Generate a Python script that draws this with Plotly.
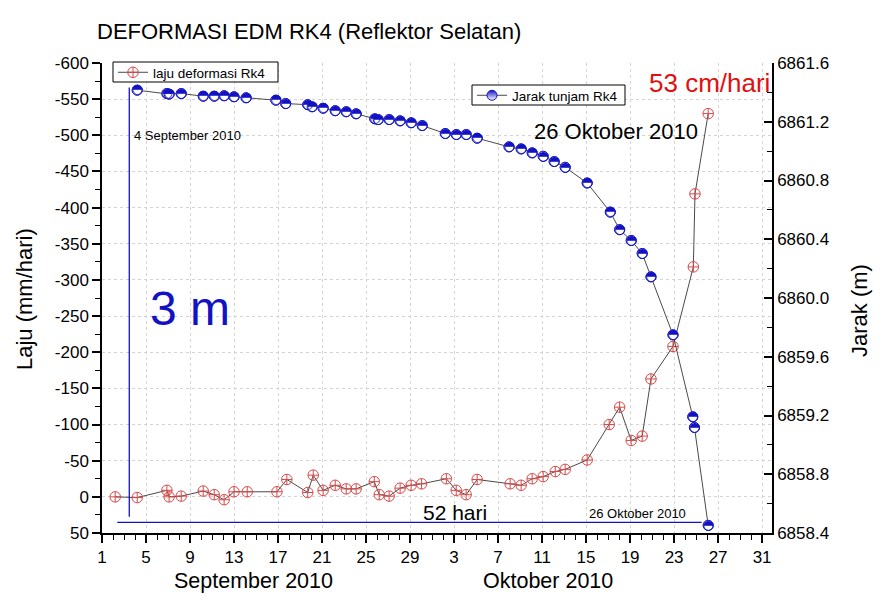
import plotly.graph_objects as go

# ---------------- data (x = day counted from 1 September 2010: Sep d -> d, Oct d -> 30 + d)
laju_hari = [2.2, 4.2, 6.9, 7.1, 8.2, 10.2, 11.2, 12.1, 13.0, 14.2, 16.9, 17.8, 19.7, 20.2,
             21.1, 22.2, 23.2, 24.1, 25.75, 26.2, 27.1, 28.1, 29.1, 30.05, 32.3, 33.2, 34.1,
             35.1, 38.1, 39.1, 40.1, 41.1, 42.2, 43.1, 45.1, 47.1, 48.05, 49.1, 50.1, 50.9,
             52.9, 54.75, 54.9, 56.1]
laju_mm = [0, 1, -9, 0, -1, -8, -3, 4, -7, -7, -7, -24, -6, -30,
           -9, -16, -11, -11, -21, -3, -1, -12, -16, -18, -25, -9, -3,
           -24, -18, -16, -25, -28, -35, -38, -51, -100, -124, -78, -84, -163,
           -208, -318, -419, -530]

jarak_hari = [4.2, 6.9, 7.1, 8.2, 10.2, 11.2, 12.1, 13.0, 14.1, 16.8, 17.7, 19.7, 20.1,
              21.1, 22.2, 23.2, 24.1, 25.8, 26.1, 27.1, 28.1, 29.1, 30.1, 32.2, 33.2, 34.1,
              35.1, 38.0, 39.1, 40.1, 41.1, 42.1, 43.1, 45.1, 47.2, 48.05, 49.1, 50.1, 50.9,
              52.9, 54.7, 54.85, 56.1]
jarak_m = [6861.415, 6861.392, 6861.388, 6861.392, 6861.374, 6861.374, 6861.377, 6861.370,
           6861.363, 6861.347, 6861.324, 6861.316, 6861.302, 6861.292, 6861.275, 6861.268,
           6861.254, 6861.220, 6861.215, 6861.215, 6861.206, 6861.193, 6861.174, 6861.120,
           6861.113, 6861.113, 6861.088, 6861.029, 6861.015, 6860.988, 6860.965, 6860.929,
           6860.890, 6860.783, 6860.585, 6860.465, 6860.392, 6860.303, 6860.144, 6859.749,
           6859.191, 6859.119, 6858.452]

xtick_vals = [1, 5, 9, 13, 17, 21, 25, 29, 33, 37, 41, 45, 49, 53, 57, 61]
xtick_text = ['1', '5', '9', '13', '17', '21', '25', '29',
              '3', '7', '11', '15', '19', '23', '27', '31']
ytick_vals = [-600, -550, -500, -450, -400, -350, -300, -250, -200, -150, -100, -50, 0, 50]
ytick_text = [str(v) for v in ytick_vals]

# annotation spans (4 Sep line and 52-day span)
span_x_start = 3.48
span_y_top, span_y_bottom = -566, 27.5
span_h_y = 35.3
span_h_x0, span_h_x1 = 2.39, 55.5

# ---------------- layout helpers (page pixel coordinates; page body has an 8px margin)
OFF = 8
W, H = 895 - OFF, 610 - OFF
L, R, T, B = 102, 772, 63, 533          # plot area in page pixels
FONT = 'Liberation Sans, Arial, sans-serif'
BLUE = '#1212c4'
RED = '#d94848'
LINE = '#4a4a4a'


def px(x):
    return (x - L) / (R - L)


def py(y):
    return (B - y) / (B - T)


fig = go.Figure()
fig.add_trace(go.Scatter(
    x=laju_hari, y=laju_mm, mode='lines+markers', name='laju deformasi Rk4',
    line=dict(color=LINE, width=1),
    marker=dict(symbol='circle-cross-open', size=10.5, color=RED, line=dict(width=1)),
    legend='legend', hoverinfo='x+y'))
fig.add_trace(go.Scatter(
    x=jarak_hari, y=jarak_m, yaxis='y2', mode='lines+markers', name='Jarak tunjam Rk4',
    line=dict(color=LINE, width=1),
    marker=dict(symbol='circle', size=10, color=BLUE,
                gradient=dict(type='vertical', color='white'),
                line=dict(color=BLUE, width=1)),
    legend='legend2'))
fig.add_trace(go.Scatter(
    x=jarak_hari, y=jarak_m, yaxis='y2', mode='markers', showlegend=False,
    marker=dict(symbol='circle', size=10, color='white', line=dict(color=BLUE, width=1)),
    hoverinfo='skip'))
fig.add_trace(go.Scatter(
    x=jarak_hari, y=jarak_m, yaxis='y2', mode='text', showlegend=False,
    text=['\u25d3'] * len(jarak_hari), textposition='middle center',
    textfont=dict(family='DejaVu Sans', size=13, color=BLUE), hoverinfo='skip'))

# blue span lines
fig.add_shape(type='line', xref='x', yref='y', x0=span_x_start, x1=span_x_start,
              y0=span_y_top, y1=span_y_bottom, line=dict(color=BLUE, width=1.3))
fig.add_shape(type='line', xref='x', yref='y', x0=span_h_x0, x1=span_h_x1,
              y0=span_h_y, y1=span_h_y, line=dict(color=BLUE, width=1.3))

# legend frames (compact boxes like the reference)
for (bx0, by0, bx1, by1) in [(113, 62, 278, 82), (472, 85, 625, 105)]:
    fig.add_shape(type='rect', xref='paper', yref='paper', layer='above',
                  x0=px(bx0), x1=px(bx1), y0=py(by1), y1=py(by0),
                  fillcolor='white', line=dict(color='black', width=1))

ann = []


def add_text(text, x, y, size, color='black', xanchor='center', angle=0):
    ann.append(dict(text=text, x=px(x), y=py(y), xref='paper', yref='paper',
                    xanchor=xanchor, yanchor='middle', showarrow=False, textangle=angle,
                    font=dict(family=FONT, size=size, color=color)))


add_text('DEFORMASI EDM RK4 (Reflektor Selatan)', 95, 32, 22, xanchor='left')
add_text('Laju (mm/hari)', 24, 299, 22, angle=-90)
add_text('Jarak (m)', 859, 311, 22, angle=-90)
add_text('4 September 2010', 132, 135, 13, xanchor='left')
add_text('3 m', 190, 308, 48, color=BLUE)
add_text('53 cm/hari', 709, 83, 26, color='#e01010')
add_text('26 Oktober 2010', 616, 131, 22)
add_text('52 hari', 455, 512, 21)
add_text('26 Oktober 2010', 637, 513, 13)
add_text('September 2010', 253, 581, 21.5)
add_text('Oktober 2010', 548, 581, 21.5)

axis_common = dict(showline=True, linecolor='black', linewidth=1.5, zeroline=False,
                   tickfont=dict(family=FONT, size=17, color='black'), tickcolor='black')

legend_common = dict(xanchor='left', yanchor='top', bgcolor='rgba(0,0,0,0)', borderwidth=0,
                     font=dict(family=FONT, size=13.5), itemwidth=30, tracegroupgap=0)

fig.update_layout(
    width=W, height=H,
    margin=dict(l=L - OFF, r=W - (R - OFF), t=T - OFF, b=H - (B - OFF)),
    paper_bgcolor='white', plot_bgcolor='white',
    font=dict(family=FONT, color='black'),
    xaxis=dict(range=[1, 61.9], tickmode='array', tickvals=xtick_vals, ticktext=xtick_text,
               ticks='outside', ticklen=8, tickwidth=1.5,
               minor=dict(tickmode='linear', tick0=1, dtick=1, ticks='outside', ticklen=5,
                          tickwidth=1.2, tickcolor='black', showgrid=False),
               showgrid=True, gridcolor='#d4d4d4', griddash='dot', gridwidth=1,
               **axis_common),
    yaxis=dict(range=[50, -600], tickmode='array', tickvals=ytick_vals, ticktext=ytick_text,
               ticks='outside', ticklen=8, tickwidth=1.5,
               minor=dict(tickmode='linear', tick0=0, dtick=25, ticks='outside', ticklen=5,
                          tickwidth=1.2, tickcolor='black', showgrid=False),
               showgrid=True, gridcolor='#d4d4d4', griddash='dot', gridwidth=1,
               **axis_common),
    yaxis2=dict(overlaying='y', side='right', range=[6858.4, 6861.6], tickmode='linear',
                tick0=6858.4, dtick=0.4, tickformat='.1f', ticks='inside', ticklen=8,
                tickwidth=1.5,
                minor=dict(tickmode='linear', tick0=6858.4, dtick=0.2, ticks='inside',
                           ticklen=5, tickwidth=1.2, tickcolor='black', showgrid=False),
                showgrid=False, **axis_common),
    legend=dict(x=px(113), y=py(57), **legend_common),
    legend2=dict(x=px(472), y=py(80), **legend_common),
    annotations=ann,
    showlegend=True,
)

fig.write_html('out.html')
